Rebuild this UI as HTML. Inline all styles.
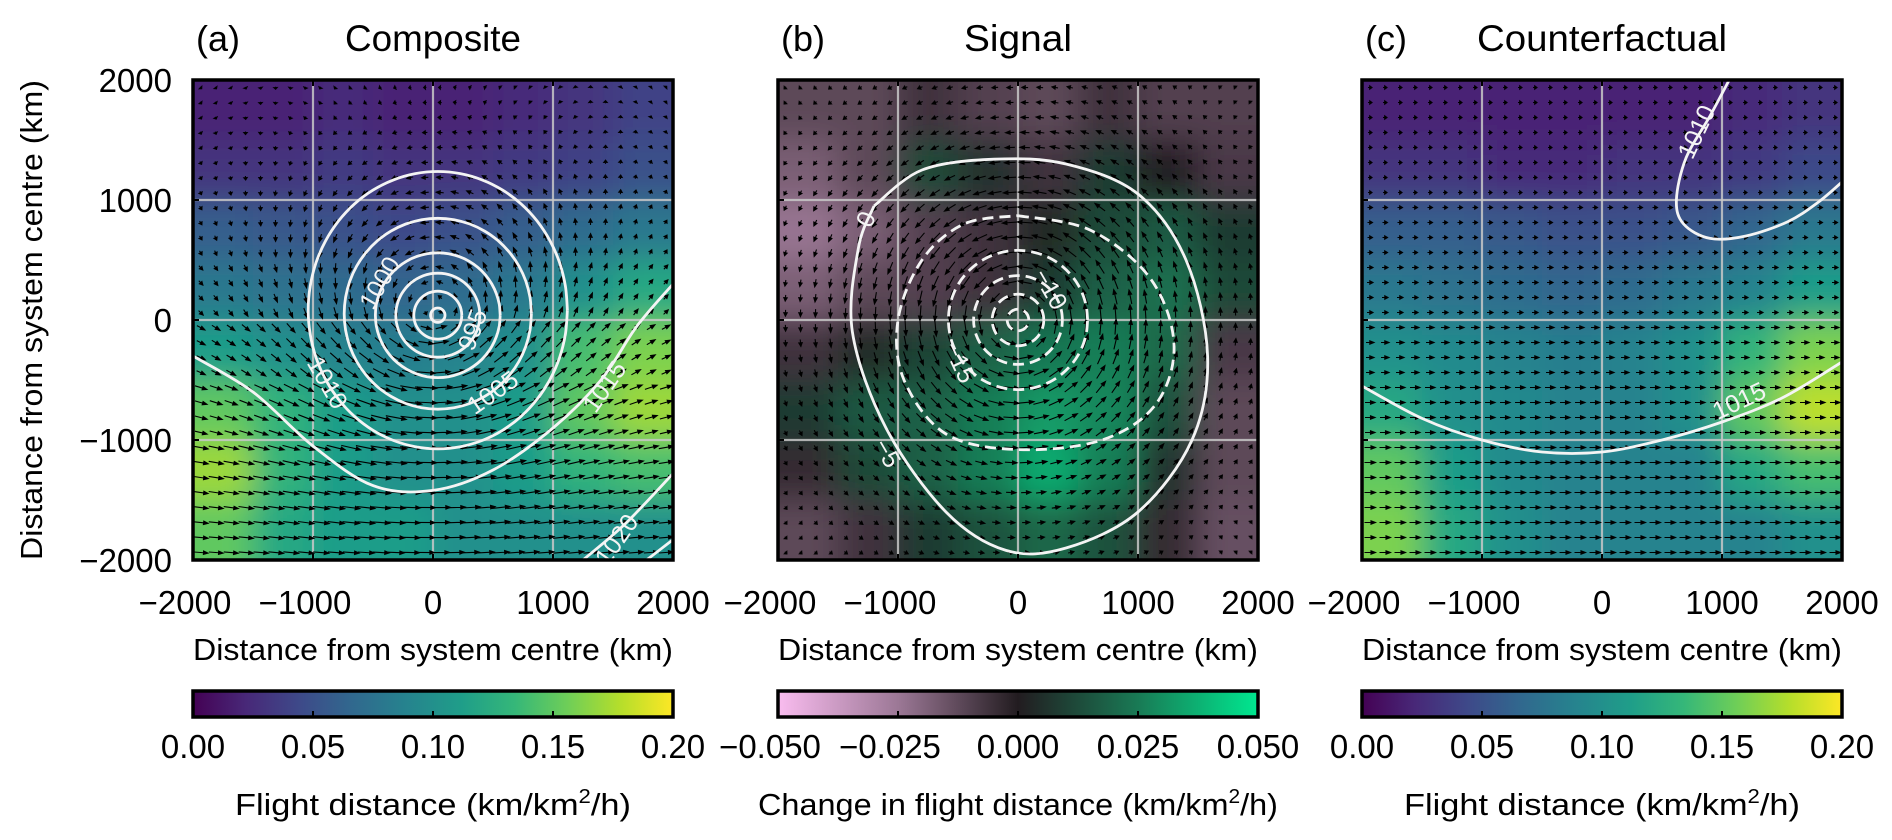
<!DOCTYPE html>
<html><head><meta charset="utf-8">
<style>
html,body{margin:0;padding:0;background:#fff;}
svg{display:block;font-family:"Liberation Sans","DejaVu Sans",sans-serif;}
</style></head>
<body>
<svg id="fig" width="1892" height="840" viewBox="0 0 1892 840" xmlns="http://www.w3.org/2000/svg">
<defs>
<filter id="blur" x="-10%" y="-10%" width="120%" height="120%"><feGaussianBlur stdDeviation="16"/></filter>
<clipPath id="clipA"><rect x="193" y="80" width="480" height="480"/></clipPath>
<clipPath id="clipB"><rect x="778" y="80" width="480" height="480"/></clipPath>
<clipPath id="clipC"><rect x="1362" y="80" width="480" height="480"/></clipPath>
<linearGradient id="gradViridis" x1="0" x2="1" y1="0" y2="0">
<stop offset="0" stop-color="#440154"/><stop offset="0.11" stop-color="#482878"/><stop offset="0.22" stop-color="#3e4989"/><stop offset="0.33" stop-color="#31688e"/><stop offset="0.44" stop-color="#26828e"/><stop offset="0.56" stop-color="#1f9e89"/><stop offset="0.67" stop-color="#35b779"/><stop offset="0.78" stop-color="#6ece58"/><stop offset="0.89" stop-color="#b5de2b"/><stop offset="1" stop-color="#fde725"/>
</linearGradient>
<linearGradient id="gradDiv" x1="0" x2="1" y1="0" y2="0">
<stop offset="0" stop-color="#f9bcef"/><stop offset="0.25" stop-color="#9c7896"/><stop offset="0.5" stop-color="#221c20"/><stop offset="0.75" stop-color="#197a55"/><stop offset="1" stop-color="#00e890"/>
</linearGradient>
</defs>
<g id="root"></g>
</svg>
<script>
// ---------- data ----------
const heatA = [
[0.02,0.02,0.025,0.02,0.02,0.025,0.03,0.04],
[0.03,0.03,0.035,0.03,0.03,0.035,0.04,0.05],
[0.06,0.055,0.05,0.045,0.05,0.06,0.07,0.08],
[0.08,0.075,0.07,0.065,0.07,0.08,0.10,0.12],
[0.11,0.10,0.09,0.085,0.09,0.10,0.14,0.16],
[0.15,0.13,0.11,0.10,0.10,0.11,0.15,0.17],
[0.17,0.13,0.11,0.10,0.10,0.11,0.13,0.14],
[0.15,0.12,0.11,0.11,0.10,0.10,0.10,0.10]];
const heatB = [
[-0.012,-0.012,-0.006,-0.01,-0.012,-0.006,-0.01,-0.01],
[-0.018,-0.012,0.012,0.006,-0.006,0.008,0.0,-0.008],
[-0.024,-0.018,-0.01,-0.006,0.004,0.012,0.016,0.008],
[-0.018,-0.012,-0.01,-0.006,0.008,0.018,0.022,0.012],
[-0.006,0.004,0.01,0.018,0.024,0.026,0.02,-0.008],
[0.008,0.016,0.018,0.026,0.032,0.028,0.014,-0.012],
[-0.004,0.012,0.018,0.026,0.036,0.026,0.006,-0.012],
[-0.012,-0.006,0.008,0.014,0.02,0.014,-0.004,-0.014]];
const heatC = [
[0.02,0.02,0.02,0.02,0.02,0.02,0.025,0.03],
[0.03,0.03,0.025,0.025,0.03,0.03,0.035,0.045],
[0.06,0.06,0.055,0.05,0.05,0.055,0.065,0.08],
[0.08,0.075,0.07,0.065,0.07,0.08,0.09,0.11],
[0.10,0.095,0.09,0.085,0.09,0.10,0.13,0.16],
[0.12,0.10,0.095,0.09,0.09,0.10,0.15,0.18],
[0.15,0.11,0.095,0.09,0.09,0.09,0.12,0.14],
[0.16,0.12,0.10,0.09,0.09,0.09,0.09,0.10]];
const windBgA = [2,2.5,3,4,7,10,12,12];
const windBgB = [0,0,0,0,0,0,0,0];
const windBgC = [3,3,4,5,7,9,10,10];
const vortexA = 11, vortexB = 15, vortexC = 0;
const ringRadiiA = [60,200,350,520,780,1080];
const ringStretchA = [1,1,1,1,1.02,1.07];
const contour1015A = [[-2000,-300],[-1500,-600],[-1000,-1050],[-500,-1380],[0,-1420],[500,-1250],[1000,-900],[1400,-500],[1700,-50],[2000,300]];
const contour1020A = [[1250,-2000],[1600,-1700],[2000,-1280]];
const contour1025A = [[1780,-2000],[2000,-1830]];
const contour0B = [[-1200,950],[-800,1250],[-200,1340],[400,1300],[1000,1050],[1400,500],[1580,-300],[1450,-1000],[1000,-1600],[400,-1900],[-100,-1920],[-600,-1600],[-1100,-900],[-1380,-100],[-1330,600],[-1200,950]];
const contourM5B = [[0,870],[600,750],[1100,350],[1300,-200],[1150,-700],[700,-1000],[0,-1080],[-600,-950],[-950,-500],[-1000,0],[-800,500],[-450,800],[0,870]];
const ringRadiiB = [580,370,215,90];
const contour1010C = [[1060,2000],[900,1700],[700,1350],[620,1000],[680,800],[900,680],[1200,700],[1550,820],[1800,980],[2000,1150]];
const contour1015C = [[-2000,-550],[-1500,-820],[-1000,-1000],[-500,-1100],[0,-1100],[500,-1000],[1000,-850],[1500,-650],[2000,-350]];
const labelsA = [["1000",-442,308,-60],["995",333,-83,-70],["1005",500,-608,-35],["1010",-883,-525,60],["1015",1433,-558,-55],["1020",1533,-1833,-55]];
const labelsB = [["0",-1264,838,-65],["\u221210",267,255,60],["\u221215",-489,-354,65],["\u22125",-1093,-1111,60]];
const labelsC = [["1010",791,1566,-65],["1015",1144,-677,-25]];
const axisTicks = [-2000,-1000,0,1000,2000];
const axisTickLabels = ["\u22122000","\u22121000","0","1000","2000"];
const cbTicksSeq = [0,0.05,0.10,0.15,0.20];
const cbLabelsSeq = ["0.00","0.05","0.10","0.15","0.20"];
const cbTicksDiv = [-0.05,-0.025,0,0.025,0.05];
const cbLabelsDiv = ["\u22120.050","\u22120.025","0.000","0.025","0.050"];

// ---------- helpers ----------
const NS="http://www.w3.org/2000/svg";
const root=document.getElementById('root');
function mk(tag,attrs,parent){const e=document.createElementNS(NS,tag);for(const k in attrs)e.setAttribute(k,attrs[k]);(parent||root).appendChild(e);return e;}
const T=80,S=480;
function xS(L,x){return L+(x+2000)/4000*S;}
function yS(y){return T+(2000-y)/4000*S;}
const vir=["#440154","#482878","#3e4989","#31688e","#26828e","#1f9e89","#35b779","#6ece58","#b5de2b","#fde725"];
const div=["#f9bcef","#9c7896","#221c20","#197a55","#00e890"];
function hex(c){return [parseInt(c.slice(1,3),16),parseInt(c.slice(3,5),16),parseInt(c.slice(5,7),16)];}
function cmap(stops,t){t=Math.max(0,Math.min(1,t));const n=stops.length-1;const i=Math.min(n-1,Math.floor(t*n));const f=t*n-i;const a=hex(stops[i]),b=hex(stops[i+1]);return `rgb(${a.map((v,k)=>Math.round(v+(b[k]-v)*f)).join(',')})`;}
function smooth(pts){let d=`M${pts[0][0]},${pts[0][1]}`;for(let i=0;i<pts.length-1;i++){const p0=pts[Math.max(0,i-1)],p1=pts[i],p2=pts[i+1],p3=pts[Math.min(pts.length-1,i+2)];const c1=[p1[0]+(p2[0]-p0[0])/6,p1[1]+(p2[1]-p0[1])/6],c2=[p2[0]-(p3[0]-p1[0])/6,p2[1]-(p3[1]-p1[1])/6];d+=`C${c1[0].toFixed(1)},${c1[1].toFixed(1)} ${c2[0].toFixed(1)},${c2[1].toFixed(1)} ${p2[0].toFixed(1)},${p2[1].toFixed(1)}`;}return d;}

function panel(L,clip,heat,stops,vmin,vmax,bg,vort,name){
  const g=mk('g',{'clip-path':`url(#${clip})`});
  
  
  const bl=mk('g',{filter:'url(#blur)'},g);
  const n=heat.length,cs=S/n;
  heat.forEach((row,r)=>row.forEach((v,c)=>{
    let x=L+c*cs,y=T+r*cs,w=cs+1,h=cs+1;
    if(c===0){x-=60;w+=60;} if(c===n-1){w+=60;}
    if(r===0){y-=60;h+=60;} if(r===n-1){h+=60;}
    const cell=mk('rect',{x:x,y:y,width:w,height:h,fill:cmap(stops,(v-vmin)/(vmax-vmin))},bl);
    
    
  }));
  [-1000,0,1000].forEach(k=>{
    mk('line',{x1:xS(L,k),x2:xS(L,k),y1:T,y2:T+S,stroke:'#c8c8c8','stroke-opacity':0.85,'stroke-width':2.2},g);
    mk('line',{x1:L,x2:L+S,y1:yS(k),y2:yS(k),stroke:'#c8c8c8','stroke-opacity':0.85,'stroke-width':2.2},g);
  });
  const q=mk('g',{stroke:'#000',fill:'#000'},g);
  
  
  const N=32,sp=S/N;
  for(let i=0;i<N;i++)for(let j=0;j<N;j++){
    const cx=L+sp*(j+0.5),cy=T+sp*(i+0.5);
    const xk=(cx-L)/S*4000-2000,yk=2000-(cy-T)/S*4000;
    const r=Math.hypot(xk,yk)+1,R=600;
    const V=vort*(r/R)*Math.exp(1-r/R);
    let u=bg[Math.min(7,Math.floor(i/4))]+V*(-yk/r),v=V*(xk/r);
    const len=Math.hypot(u,v);if(len<0.8)continue;
    const dx=u,dy=-v;
    const x0=cx-dx/2,y0=cy-dy/2,x1=cx+dx/2,y1=cy+dy/2;
    const ux=dx/len,uy=dy/len,hl=Math.min(3.5,len*0.45);
    const a=mk('path',{d:`M${x0.toFixed(1)},${y0.toFixed(1)}L${x1.toFixed(1)},${y1.toFixed(1)}M${(x1+ux*1).toFixed(1)},${(y1+uy*1).toFixed(1)}L${(x1-ux*hl-uy*1.7).toFixed(1)},${(y1-uy*hl+ux*1.7).toFixed(1)}L${(x1-ux*hl+uy*1.7).toFixed(1)},${(y1-uy*hl-ux*1.7).toFixed(1)}Z`,'stroke-width':1.1},q);
    
    
  }
  return g;
}
function contour(g,L,pts,dash,nm){
  const p=mk('path',{d:smooth(pts.map(p=>[xS(L,p[0]),yS(p[1])])),fill:'none',stroke:'#f4f4f4','stroke-width':2.8},g);
  if(dash)p.setAttribute('stroke-dasharray','11 6');
  
  
}
function ring(g,L,cx,cy,r,st,dash,nm){
  const pts=[];for(let a=0;a<=36;a++){const t=a/36*2*Math.PI;pts.push([cx+r*Math.cos(t),cy+r*st*Math.sin(t)]);}
  contour(g,L,pts,dash,nm);
}
function clabels(g,L,arr){arr.forEach(l=>{
  const x=xS(L,l[1]),y=yS(l[2]);
  const t=mk('text',{x:x,y:y+8,'text-anchor':'middle','font-size':25,fill:'#f4f4f4',transform:`rotate(${l[3]} ${x} ${y})`},g);
  t.textContent=l[0];
  
  
});}
function axes(L,title,letter,yTicks,pname,tw){
  const f=mk('rect',{x:L,y:T,width:S,height:S,fill:'none',stroke:'#000','stroke-width':3.5});
  
  
  axisTicks.forEach((k,i)=>{
    mk('line',{x1:xS(L,k),x2:xS(L,k),y1:T+S,y2:T+S-6,stroke:'#000','stroke-width':2});
    mk('line',{x1:xS(L,k),x2:xS(L,k),y1:T,y2:T+6,stroke:'#000','stroke-width':2});
    mk('line',{x1:L,x2:L+6,y1:yS(k),y2:yS(k),stroke:'#000','stroke-width':2});
    const t=mk('text',{x:xS(L,k)-(k<0?8:0),y:614,'text-anchor':'middle','font-size':33});
    t.textContent=axisTickLabels[i];
    
    
    if(yTicks){const u=mk('text',{x:172,y:yS(k)+12,'text-anchor':'end','font-size':33});u.textContent=axisTickLabels[i];
      
      }
  });
  const xl=mk('text',{x:L+S/2,y:660,'text-anchor':'middle','font-size':31,textLength:480,lengthAdjust:'spacingAndGlyphs'});
  xl.textContent='Distance from system centre (km)';
  
  
  const le=mk('text',{x:L+3,y:51,'font-size':36});le.textContent=letter;
  
  
  const ti=mk('text',{x:L+S/2,y:51,'text-anchor':'middle','font-size':37,textLength:tw,lengthAdjust:'spacingAndGlyphs'});ti.textContent=title;
  
  
}
function colorbar(L,grad,ticks,labels,vmin,vmax,title,nm,tw){
  const r=mk('rect',{x:L,y:691,width:S,height:26,fill:`url(#${grad})`,stroke:'#000','stroke-width':3.5});
  
  
  ticks.forEach((v,i)=>{
    const x=L+(v-vmin)/(vmax-vmin)*S;
    if(i>0&&i<ticks.length-1)mk('line',{x1:x,x2:x,y1:717,y2:711,stroke:'#000','stroke-width':2});
    const t=mk('text',{x:x-(v<0?8:0),y:758,'text-anchor':'middle','font-size':33});t.textContent=labels[i];
    
    
  });
  const t=mk('text',{x:L+S/2,y:815,'text-anchor':'middle','font-size':31,textLength:tw,lengthAdjust:'spacingAndGlyphs'});
  t.innerHTML=title;
  
  
}

const LA=193,LB=778,LC=1362;
let g=panel(LA,'clipA',heatA,vir,0,0.2,windBgA,vortexA,'composite');
ringRadiiA.forEach((r,i)=>ring(g,LA,40,40+(ringStretchA[i]-1)*600,r,ringStretchA[i],false,'pressure-contour'));
contour(g,LA,contour1015A,false,'pressure-contour-1015');
contour(g,LA,contour1020A,false,'pressure-contour-1020');
contour(g,LA,contour1025A,false,'pressure-contour-1025');
clabels(g,LA,labelsA);
axes(LA,'Composite','(a)',true,'composite',176);
g=panel(LB,'clipB',heatB,div,-0.05,0.05,windBgB,vortexB,'signal');
contour(g,LB,contour0B,false,'pressure-change-contour-0');
contour(g,LB,contourM5B,true,'pressure-change-contour-m5');
ringRadiiB.forEach(r=>ring(g,LB,0,0,r,1,true,'pressure-change-contour'));
clabels(g,LB,labelsB);
axes(LB,'Signal','(b)',false,'signal',108);
g=panel(LC,'clipC',heatC,vir,0,0.2,windBgC,vortexC,'counterfactual');
contour(g,LC,contour1010C,false,'pressure-contour-1010');
contour(g,LC,contour1015C,false,'pressure-contour-1015');
clabels(g,LC,labelsC);
axes(LC,'Counterfactual','(c)',false,'counterfactual',250);

const yl=mk('text',{x:0,y:0,'text-anchor':'middle','font-size':31,transform:'translate(42 320) rotate(-90)',textLength:480,lengthAdjust:'spacingAndGlyphs'});
yl.textContent='Distance from system centre (km)';



colorbar(LA,'gradViridis',cbTicksSeq,cbLabelsSeq,0,0.2,'Flight distance (km/km<tspan dy="-12" font-size="20">2</tspan><tspan dy="12">/h)</tspan>','colorbar-composite',396);
colorbar(LB,'gradDiv',cbTicksDiv,cbLabelsDiv,-0.05,0.05,'Change in flight distance (km/km<tspan dy="-12" font-size="20">2</tspan><tspan dy="12">/h)</tspan>','colorbar-signal',520);
colorbar(LC,'gradViridis',cbTicksSeq,cbLabelsSeq,0,0.2,'Flight distance (km/km<tspan dy="-12" font-size="20">2</tspan><tspan dy="12">/h)</tspan>','colorbar-counterfactual',396);
</script>
</body></html>
